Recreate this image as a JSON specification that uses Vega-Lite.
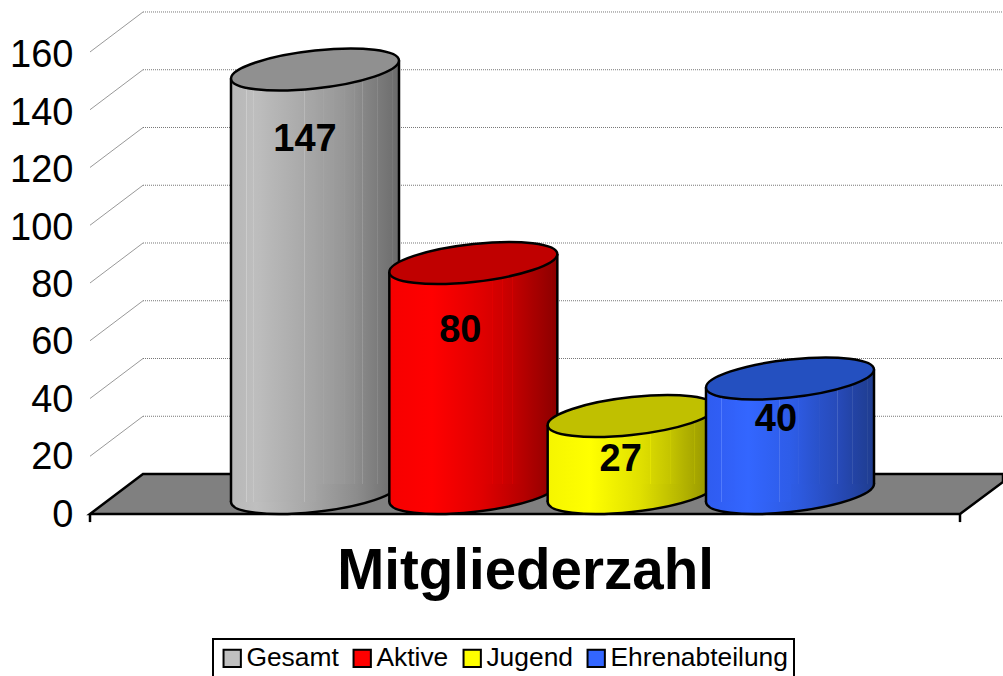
{
"$schema":"https://vega.github.io/schema/vega-lite/v6.json",
"width":1003,"height":676,"autosize":{"type":"none"},"padding":0,"background":"white",
"config":{"view":{"stroke":null}},
"datasets":{
"members":[{"series":"Gesamt","value":147},{"series":"Aktive","value":80},{"series":"Jugend","value":27},{"series":"Ehrenabteilung","value":40}],
"ticks":[{"t":0},{"t":20},{"t":40},{"t":60},{"t":80},{"t":100},{"t":120},{"t":140},{"t":160}],
"side":[{"level":20,"pos":90,"v":20},{"level":20,"pos":143,"v":33.85},{"level":40,"pos":90,"v":40},{"level":40,"pos":143,"v":53.85},{"level":60,"pos":90,"v":60},{"level":60,"pos":143,"v":73.85},{"level":80,"pos":90,"v":80},{"level":80,"pos":143,"v":93.85},{"level":100,"pos":90,"v":100},{"level":100,"pos":143,"v":113.85},{"level":120,"pos":90,"v":120},{"level":120,"pos":143,"v":133.85},{"level":140,"pos":90,"v":140},{"level":140,"pos":143,"v":153.85},{"level":160,"pos":90,"v":160},{"level":160,"pos":143,"v":173.85}],
"back":[{"v":33.85},{"v":53.85},{"v":73.85},{"v":93.85},{"v":113.85},{"v":133.85},{"v":153.85},{"v":173.85}],
"floor":[{"pos":90,"low":0,"high":0},{"pos":143,"low":0,"high":13.85},{"pos":960,"low":0,"high":13.85},{"pos":1003,"low":11.1,"high":13.85}],
"ends":[{"pos":90},{"pos":960}]
},
"resolve":{"scale":{"x":"independent","y":"independent"}},
"layer":[
{"data":{"name":"ticks"},"mark":{"type":"rule","opacity":0},
"encoding":{"y":{"field":"t","type":"quantitative","scale":{"domain":[-56.1,179.5],"range":[676,0],"nice":false,"zero":false},
"axis":{"orient":"left","values":[0,20,40,60,80,100,120,140,160],"title":null,"offset":-78,"domain":false,"ticks":false,"grid":false,"labelPadding":5,"labelFont":"Liberation Sans","labelFontSize":38,"labelColor":"black","labelOverlap":false,"labelFlush":false}}}},
{"layer":[
{"data":{"name":"back"},"mark":{"type":"rule","stroke":"#777777","strokeWidth":1,"strokeDash":[1,1]},
"encoding":{"x":{"datum":143,"type":"quantitative","scale":{"domain":[0,1003],"range":[0,1003],"nice":false,"zero":false},
"axis":{"orient":"bottom","title":"Mitgliederzahl","titleFont":"Liberation Sans","titleFontSize":56.5,"titleFontWeight":"bold","titleColor":"black","titleX":525,"titleY":-88,"titleBaseline":"alphabetic","titleAlign":"center","titleAnchor":null,"labels":false,"ticks":false,"domain":false,"grid":false}},
"x2":{"datum":1003},
"y":{"field":"v","type":"quantitative","axis":null,"scale":{"domain":[-56.1,178],"range":[676,0],"nice":false,"zero":false}}}},
{"data":{"name":"side"},"mark":{"type":"line","stroke":"#999999","strokeWidth":1},
"encoding":{"x":{"field":"pos","type":"quantitative"},"y":{"field":"v","type":"quantitative","axis":null},"detail":{"field":"level"}}},
{"data":{"name":"floor"},"mark":{"type":"area","fill":"#808080","stroke":"black","strokeWidth":2.5},
"encoding":{"x":{"field":"pos","type":"quantitative"},"y":{"field":"low","type":"quantitative","axis":null},"y2":{"field":"high"}}},
{"data":{"name":"ends"},"mark":{"type":"rule","stroke":"black","strokeWidth":2.5},
"encoding":{"x":{"field":"pos","type":"quantitative"},"y":{"datum":0,"type":"quantitative","axis":null},"y2":{"datum":-2.8}}}
]},
{"data":{"name":"members"},
"encoding":{"x":{"field":"series","type":"nominal","sort":null,"axis":null,"scale":{"type":"point","domain":["Gesamt","Aktive","Jugend","Ehrenabteilung"],"range":[315,790],"padding":0}},"y":{"field":"value","type":"quantitative","axis":null,"scale":{"domain":[-56.1,178],"range":[676,0],"nice":false,"zero":false}}},
"layer":[
{"mark":{"type":"bar","width":1,"yOffset":-20,"y2Offset":-20},
"encoding":{"y2":{"datum":0},"color":{"field":"series","type":"nominal","scale":{"domain":["Gesamt","Aktive","Jugend","Ehrenabteilung"],"range":["#c0c0c0","#ff0000","#ffff00","#3366ff"]},
"legend":{"orient":"none","legendX":213,"legendY":639,"direction":"horizontal","columns":4,"title":null,"labelFont":"Liberation Sans","labelFontSize":26.4,"labelColor":"black","labelLimit":400,"symbolType":"square","symbolSize":300,"symbolStrokeColor":"black","symbolStrokeWidth":2,"symbolOpacity":1,"strokeColor":"black","fillColor":"white","padding":6,"labelOffset":1,"columnPadding":10,"encode":{"legend":{"update":{"strokeWidth":{"value":2},"width":{"value":584},"height":{"value":50}}}}}}}},
{"transform":[{"filter":"datum.series=='Gesamt'"}],"layer":[
{"mark":{"type":"point","shape":"M1,-0.107C1,0.0178,0.5523,0.1669,0,0.226C-0.5523,0.2851,-1,0.2318,-1,0.107C-1,-0.0178,-0.5523,-0.1669,0,-0.226C0.5523,-0.2851,1,-0.2318,1,-0.107Z","size":28224,"opacity":1,"filled":true,"yOffset":-21,"stroke":"black","strokeWidth":2.5,"fill":{"gradient":"linear","x1":0,"x2":1,"y1":0,"y2":0,"stops":[{"offset":0,"color":"#b8b8b8"},{"offset":0.15,"color":"#bfbfbf"},{"offset":0.45,"color":"#a8a8a8"},{"offset":0.75,"color":"#8c8c8c"},{"offset":1,"color":"#6a6a6a"}]}},"encoding":{"y":{"datum":0,"type":"quantitative"}}},
{"mark":{"type":"bar","width":85,"xOffset":-41.5,"yOffset":-11,"y2Offset":-12,"fill":{"gradient":"linear","x1":0,"x2":1,"y1":0,"y2":0,"stops":[{"offset":0,"color":"#b8b8b8"},{"offset":0.18,"color":"#bbbbbb"},{"offset":0.183,"color":"#d0d0d0"},{"offset":0.186,"color":"#bcbcbc"},{"offset":0.26,"color":"#bebebe"},{"offset":0.263,"color":"#d2d2d2"},{"offset":0.266,"color":"#bebebe"},{"offset":0.34,"color":"#bcbcbc"},{"offset":0.343,"color":"#d0d0d0"},{"offset":0.346,"color":"#bcbcbc"},{"offset":0.44,"color":"#b8b8b8"},{"offset":0.86,"color":"#a9a9a9"},{"offset":0.866,"color":"#bcbcbc"},{"offset":0.872,"color":"#a8a8a8"},{"offset":1,"color":"#a4a4a4"}]}},"encoding":{"y2":{"datum":0}}},
{"mark":{"type":"bar","width":84,"xOffset":42,"yOffset":-29,"y2Offset":-30,"fill":{"gradient":"linear","x1":0,"x2":1,"y1":0,"y2":0,"stops":[{"offset":0,"color":"#a4a4a4"},{"offset":0.1,"color":"#a0a0a0"},{"offset":0.106,"color":"#b4b4b4"},{"offset":0.112,"color":"#a0a0a0"},{"offset":0.22,"color":"#9c9c9c"},{"offset":0.226,"color":"#b0b0b0"},{"offset":0.232,"color":"#9b9b9b"},{"offset":0.34,"color":"#979797"},{"offset":0.346,"color":"#aaaaaa"},{"offset":0.352,"color":"#969696"},{"offset":0.46,"color":"#909090"},{"offset":0.466,"color":"#a2a2a2"},{"offset":0.472,"color":"#8f8f8f"},{"offset":0.56,"color":"#888888"},{"offset":0.566,"color":"#9a9a9a"},{"offset":0.572,"color":"#878787"},{"offset":0.74,"color":"#7c7c7c"},{"offset":0.746,"color":"#8e8e8e"},{"offset":0.752,"color":"#7b7b7b"},{"offset":0.92,"color":"#707070"},{"offset":0.926,"color":"#828282"},{"offset":0.932,"color":"#6f6f6f"},{"offset":1,"color":"#6a6a6a"}]}},"encoding":{"y2":{"datum":0}}},
{"mark":{"type":"rule","xOffset":-84,"yOffset":-11,"y2Offset":-12,"stroke":"black","strokeWidth":2.5},"encoding":{"y2":{"datum":0}}},
{"mark":{"type":"rule","xOffset":84,"yOffset":-29,"y2Offset":-30,"stroke":"black","strokeWidth":2.5},"encoding":{"y2":{"datum":0}}},
{"mark":{"type":"point","shape":"M1,-0.107C1,0.0178,0.5523,0.1669,0,0.226C-0.5523,0.2851,-1,0.2318,-1,0.107C-1,-0.0178,-0.5523,-0.1669,0,-0.226C0.5523,-0.2851,1,-0.2318,1,-0.107Z","size":28224,"opacity":1,"filled":true,"yOffset":-20,"stroke":"black","strokeWidth":2.5,"fill":"#909090"}},
{"mark":{"type":"text","font":"Liberation Sans","fontSize":38,"fontWeight":"bold","color":"black","dx":-10,"dy":50},"encoding":{"text":{"field":"value","type":"quantitative"}}}
]},
{"transform":[{"filter":"datum.series=='Aktive'"}],"layer":[
{"mark":{"type":"point","shape":"M1,-0.107C1,0.0178,0.5523,0.1669,0,0.226C-0.5523,0.2851,-1,0.2318,-1,0.107C-1,-0.0178,-0.5523,-0.1669,0,-0.226C0.5523,-0.2851,1,-0.2318,1,-0.107Z","size":28224,"opacity":1,"filled":true,"yOffset":-21,"stroke":"black","strokeWidth":2.5,"fill":{"gradient":"linear","x1":0,"x2":1,"y1":0,"y2":0,"stops":[{"offset":0,"color":"#f50000"},{"offset":0.25,"color":"#ff0000"},{"offset":0.55,"color":"#e00000"},{"offset":0.8,"color":"#b50000"},{"offset":1,"color":"#8a0000"}]}},"encoding":{"y":{"datum":0,"type":"quantitative"}}},
{"mark":{"type":"bar","width":85,"xOffset":-41.5,"yOffset":-11,"y2Offset":-12,"fill":{"gradient":"linear","x1":0,"x2":1,"y1":0,"y2":0,"stops":[{"offset":0,"color":"#f50000"},{"offset":0.18,"color":"#f90000"},{"offset":0.183,"color":"#ff2828"},{"offset":0.186,"color":"#f90000"},{"offset":0.5,"color":"#ff0000"},{"offset":1,"color":"#e50000"}]}},"encoding":{"y2":{"datum":0}}},
{"mark":{"type":"bar","width":84,"xOffset":42,"yOffset":-29,"y2Offset":-30,"fill":{"gradient":"linear","x1":0,"x2":1,"y1":0,"y2":0,"stops":[{"offset":0,"color":"#e50000"},{"offset":0.1,"color":"#e00000"},{"offset":0.22,"color":"#d80000"},{"offset":0.226,"color":"#e60000"},{"offset":0.232,"color":"#d60000"},{"offset":0.34,"color":"#cf0000"},{"offset":0.346,"color":"#de0000"},{"offset":0.352,"color":"#cd0000"},{"offset":0.46,"color":"#c40000"},{"offset":0.466,"color":"#d40000"},{"offset":0.472,"color":"#c30000"},{"offset":0.6,"color":"#b50000"},{"offset":0.74,"color":"#a60000"},{"offset":0.746,"color":"#b60000"},{"offset":0.752,"color":"#a50000"},{"offset":0.92,"color":"#930000"},{"offset":0.926,"color":"#a30000"},{"offset":0.932,"color":"#920000"},{"offset":1,"color":"#8a0000"}]}},"encoding":{"y2":{"datum":0}}},
{"mark":{"type":"rule","xOffset":-84,"yOffset":-11,"y2Offset":-12,"stroke":"black","strokeWidth":2.5},"encoding":{"y2":{"datum":0}}},
{"mark":{"type":"rule","xOffset":84,"yOffset":-29,"y2Offset":-30,"stroke":"black","strokeWidth":2.5},"encoding":{"y2":{"datum":0}}},
{"mark":{"type":"point","shape":"M1,-0.107C1,0.0178,0.5523,0.1669,0,0.226C-0.5523,0.2851,-1,0.2318,-1,0.107C-1,-0.0178,-0.5523,-0.1669,0,-0.226C0.5523,-0.2851,1,-0.2318,1,-0.107Z","size":28224,"opacity":1,"filled":true,"yOffset":-20,"stroke":"black","strokeWidth":2.5,"fill":"#c00000"}},
{"mark":{"type":"text","font":"Liberation Sans","fontSize":38,"fontWeight":"bold","color":"black","dx":-13,"dy":48},"encoding":{"text":{"field":"value","type":"quantitative"}}}
]},
{"transform":[{"filter":"datum.series=='Jugend'"}],"layer":[
{"mark":{"type":"point","shape":"M1,-0.107C1,0.0178,0.5523,0.1669,0,0.226C-0.5523,0.2851,-1,0.2318,-1,0.107C-1,-0.0178,-0.5523,-0.1669,0,-0.226C0.5523,-0.2851,1,-0.2318,1,-0.107Z","size":28224,"opacity":1,"filled":true,"yOffset":-21,"stroke":"black","strokeWidth":2.5,"fill":{"gradient":"linear","x1":0,"x2":1,"y1":0,"y2":0,"stops":[{"offset":0,"color":"#f5f500"},{"offset":0.25,"color":"#ffff00"},{"offset":0.55,"color":"#e0e000"},{"offset":0.8,"color":"#b5b500"},{"offset":1,"color":"#8f8f00"}]}},"encoding":{"y":{"datum":0,"type":"quantitative"}}},
{"mark":{"type":"bar","width":85,"xOffset":-41.5,"yOffset":-11,"y2Offset":-12,"fill":{"gradient":"linear","x1":0,"x2":1,"y1":0,"y2":0,"stops":[{"offset":0,"color":"#f5f500"},{"offset":0.5,"color":"#ffff00"},{"offset":1,"color":"#e5e500"}]}},"encoding":{"y2":{"datum":0}}},
{"mark":{"type":"bar","width":84,"xOffset":42,"yOffset":-29,"y2Offset":-30,"fill":{"gradient":"linear","x1":0,"x2":1,"y1":0,"y2":0,"stops":[{"offset":0,"color":"#e5e500"},{"offset":0.1,"color":"#e0e000"},{"offset":0.22,"color":"#d8d800"},{"offset":0.226,"color":"#e8e800"},{"offset":0.232,"color":"#d6d600"},{"offset":0.46,"color":"#c4c400"},{"offset":0.466,"color":"#d4d400"},{"offset":0.472,"color":"#c3c300"},{"offset":0.6,"color":"#b5b500"},{"offset":0.74,"color":"#a8a800"},{"offset":0.746,"color":"#b8b800"},{"offset":0.752,"color":"#a7a700"},{"offset":1,"color":"#8f8f00"}]}},"encoding":{"y2":{"datum":0}}},
{"mark":{"type":"rule","xOffset":-84,"yOffset":-11,"y2Offset":-12,"stroke":"black","strokeWidth":2.5},"encoding":{"y2":{"datum":0}}},
{"mark":{"type":"rule","xOffset":84,"yOffset":-29,"y2Offset":-30,"stroke":"black","strokeWidth":2.5},"encoding":{"y2":{"datum":0}}},
{"mark":{"type":"point","shape":"M1,-0.107C1,0.0178,0.5523,0.1669,0,0.226C-0.5523,0.2851,-1,0.2318,-1,0.107C-1,-0.0178,-0.5523,-0.1669,0,-0.226C0.5523,-0.2851,1,-0.2318,1,-0.107Z","size":28224,"opacity":1,"filled":true,"yOffset":-20,"stroke":"black","strokeWidth":2.5,"fill":"#c0c000"}},
{"mark":{"type":"text","font":"Liberation Sans","fontSize":38,"fontWeight":"bold","color":"black","dx":-11,"dy":24},"encoding":{"text":{"field":"value","type":"quantitative"}}}
]},
{"transform":[{"filter":"datum.series=='Ehrenabteilung'"}],"layer":[
{"mark":{"type":"point","shape":"M1,-0.107C1,0.0178,0.5523,0.1669,0,0.226C-0.5523,0.2851,-1,0.2318,-1,0.107C-1,-0.0178,-0.5523,-0.1669,0,-0.226C0.5523,-0.2851,1,-0.2318,1,-0.107Z","size":28224,"opacity":1,"filled":true,"yOffset":-21,"stroke":"black","strokeWidth":2.5,"fill":{"gradient":"linear","x1":0,"x2":1,"y1":0,"y2":0,"stops":[{"offset":0,"color":"#2f5cf0"},{"offset":0.25,"color":"#3366ff"},{"offset":0.55,"color":"#2d5ae0"},{"offset":0.8,"color":"#2649b5"},{"offset":1,"color":"#1f3d8f"}]}},"encoding":{"y":{"datum":0,"type":"quantitative"}}},
{"mark":{"type":"bar","width":85,"xOffset":-41.5,"yOffset":-11,"y2Offset":-12,"fill":{"gradient":"linear","x1":0,"x2":1,"y1":0,"y2":0,"stops":[{"offset":0,"color":"#2f5cf0"},{"offset":0.18,"color":"#305ef5"},{"offset":0.183,"color":"#5a82ff"},{"offset":0.186,"color":"#315ff5"},{"offset":0.34,"color":"#3262fa"},{"offset":0.343,"color":"#5f88ff"},{"offset":0.346,"color":"#3263fb"},{"offset":0.5,"color":"#3366ff"},{"offset":0.86,"color":"#2f5fee"},{"offset":0.866,"color":"#5279f0"},{"offset":0.872,"color":"#2f5eed"},{"offset":1,"color":"#2e5de8"}]}},"encoding":{"y2":{"datum":0}}},
{"mark":{"type":"bar","width":84,"xOffset":42,"yOffset":-29,"y2Offset":-30,"fill":{"gradient":"linear","x1":0,"x2":1,"y1":0,"y2":0,"stops":[{"offset":0,"color":"#2e5de8"},{"offset":0.1,"color":"#2d5ae0"},{"offset":0.106,"color":"#4d72e2"},{"offset":0.112,"color":"#2d59df"},{"offset":0.34,"color":"#2952ca"},{"offset":0.346,"color":"#4869d0"},{"offset":0.352,"color":"#2951c9"},{"offset":0.56,"color":"#274bba"},{"offset":0.566,"color":"#4565c4"},{"offset":0.572,"color":"#274ab9"},{"offset":0.74,"color":"#2344a6"},{"offset":0.746,"color":"#3f5cb0"},{"offset":0.752,"color":"#2343a5"},{"offset":0.92,"color":"#203f96"},{"offset":0.926,"color":"#3a56a0"},{"offset":0.932,"color":"#203e95"},{"offset":1,"color":"#1f3d8f"}]}},"encoding":{"y2":{"datum":0}}},
{"mark":{"type":"rule","xOffset":-84,"yOffset":-11,"y2Offset":-12,"stroke":"black","strokeWidth":2.5},"encoding":{"y2":{"datum":0}}},
{"mark":{"type":"rule","xOffset":84,"yOffset":-29,"y2Offset":-30,"stroke":"black","strokeWidth":2.5},"encoding":{"y2":{"datum":0}}},
{"mark":{"type":"point","shape":"M1,-0.107C1,0.0178,0.5523,0.1669,0,0.226C-0.5523,0.2851,-1,0.2318,-1,0.107C-1,-0.0178,-0.5523,-0.1669,0,-0.226C0.5523,-0.2851,1,-0.2318,1,-0.107Z","size":28224,"opacity":1,"filled":true,"yOffset":-20,"stroke":"black","strokeWidth":2.5,"fill":"#2450c0"}},
{"mark":{"type":"text","font":"Liberation Sans","fontSize":38,"fontWeight":"bold","color":"black","dx":-14,"dy":22},"encoding":{"text":{"field":"value","type":"quantitative"}}}
]}
]}
]
}
